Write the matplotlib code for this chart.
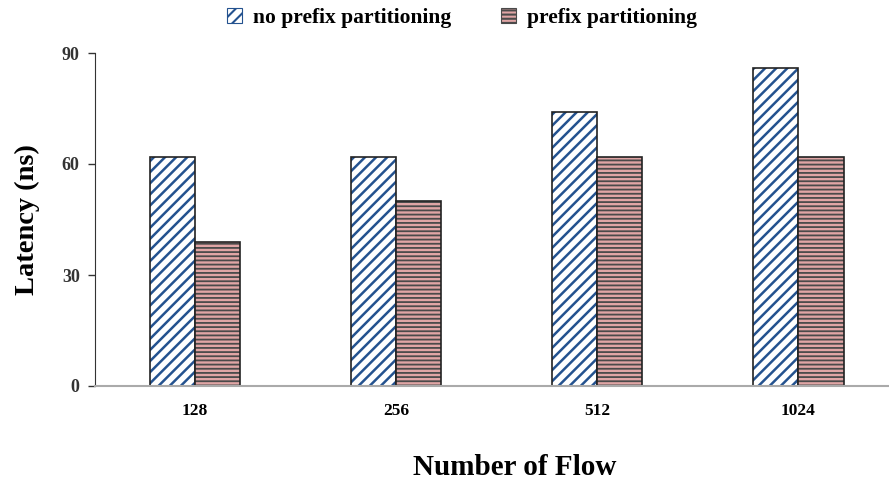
# 柱状图绘制（延迟对比）

import numpy as np
import matplotlib
matplotlib.use('Agg')
import matplotlib.pyplot as plt
from matplotlib.patches import Patch

# 数据
flows = ['128', '256', '512', '1024']
no_prefix = [62, 62, 74, 86]
prefix = [39, 50, 62, 62]
y_ticks = [0, 30, 60, 90]

plt.rcParams['font.family'] = ['Liberation Serif', 'DejaVu Serif']
plt.rcParams['font.weight'] = 'bold'
plt.rcParams['hatch.linewidth'] = 1.8

fig = plt.figure(figsize=(8.89, 4.84), dpi=100)
ax = fig.add_axes([95 / 889, 98 / 484, 1 - 95 / 889, 333 / 484])

x = np.arange(len(flows))
w = 0.224

# 蓝色斜线柱
ax.bar(x - w / 2, no_prefix, w, color='white', edgecolor='#24528f', hatch='///', linewidth=0)
ax.bar(x - w / 2, no_prefix, w, fill=False, edgecolor='#222222', linewidth=1.2)
# 红色横线柱
plt.rcParams['hatch.linewidth'] = 1.3
ax.bar(x + w / 2, prefix, w, color='#e0a5a5', edgecolor='#4a4a4a', hatch='----', linewidth=0)
ax.bar(x + w / 2, prefix, w, fill=False, edgecolor='#222222', linewidth=1.2)

ax.set_xlim(-0.4975, 3.45)
ax.set_ylim(0, 90)
ax.set_yticks(y_ticks)
ax.set_xticks(x)
ax.set_xticklabels(flows, fontsize=12.5, fontweight='bold')
ax.tick_params(axis='y', labelsize=13, direction='out', length=5, width=1, colors='#333333', pad=6)
ax.tick_params(axis='x', length=0, pad=12)
for lab in ax.get_yticklabels():
    lab.set_fontweight('bold')

ax.spines['top'].set_visible(False)
ax.spines['right'].set_visible(False)
ax.spines['left'].set_color('#333333')
ax.spines['bottom'].set_color('#aaaaaa')
ax.spines['bottom'].set_linewidth(1.5)

ax.set_ylabel('Latency (ns)', fontsize=20.5, fontweight='bold', labelpad=16)
ax.set_xlabel('Number of Flow', fontsize=21, fontweight='bold')
ax.xaxis.set_label_coords(0.529, -0.205)

# 图例
plt.rcParams['hatch.linewidth'] = 1.5
handles = [Patch(facecolor='white', edgecolor='#24528f', hatch='///', linewidth=0.8),
           Patch(facecolor='#e0a5a5', edgecolor='#4a4a4a', hatch='----', linewidth=0.8)]
fig.legend(handles, ['no prefix partitioning', 'prefix partitioning'],
           loc='center', bbox_to_anchor=(462 / 889, 1 - 18 / 484), ncol=2, frameon=False,
           prop={'size': 15.5, 'weight': 'bold'}, handlelength=0.7, handleheight=0.7,
           handletextpad=0.5, columnspacing=2.3)

fig.savefig('out.png', dpi=100)
